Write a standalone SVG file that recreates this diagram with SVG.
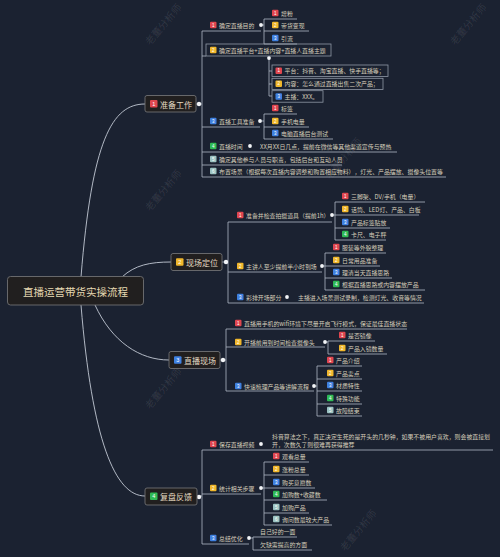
<svg xmlns="http://www.w3.org/2000/svg" width="500" height="557" viewBox="0 0 500 557">
<style>
.ln{stroke:#aeb7c5;stroke-width:0.8;fill:none}
.cl{stroke:#c3cad5;stroke-width:0.9;fill:none}
.t{font-family:"Noto Sans CJK SC","Noto Sans",sans-serif;font-size:5.9px;fill:#d6cebb;dominant-baseline:central}
.nt{font-family:"Noto Sans CJK SC","Noto Sans",sans-serif;font-size:8px;fill:#e4dac2;dominant-baseline:central}
.rt{font-family:"Noto Sans CJK SC","Noto Sans",sans-serif;font-size:10.5px;fill:#e6d9b2;dominant-baseline:central;text-anchor:middle}
.bn{font-family:"Liberation Sans",sans-serif;font-size:4.5px;fill:#fff;text-anchor:middle;dominant-baseline:central}
.nbn{font-family:"Liberation Sans",sans-serif;font-size:5.5px;fill:#fff;text-anchor:middle;dominant-baseline:central}
.r{fill:#e0464f}.y{fill:#f0b72b}.b{fill:#3f80df}.g{fill:#2fba55}.c{fill:#9cc3c1}
.node{fill:#211f1f;stroke:#6f7073;stroke-width:0.9}
.box{fill:none;stroke:#8f98a6;stroke-width:0.8}
.dot{fill:#f2f4f7}
.wm{font-family:"Noto Sans CJK SC",sans-serif;font-size:10px;fill:#ffffff;fill-opacity:0.1}
</style>
<rect width="500" height="557" fill="#1b2231"/>
<g id="watermarks">
<text class="wm" transform="translate(150,46) rotate(-50)">老董分析师</text>
<text class="wm" transform="translate(455,46) rotate(-50)">老董分析师</text>
<text class="wm" transform="translate(150,212) rotate(-50)">老董分析师</text>
<text class="wm" transform="translate(150,410) rotate(-50)">老董分析师</text>
<text class="wm" transform="translate(330,180) rotate(-50)">老董分析师</text>
<text class="wm" transform="translate(345,552) rotate(-50)">老董分析师</text>
</g>
<g id="connectors">
<path class="cl" d="M81,277 C92,140 112,104 145,104"/>
<path class="cl" d="M122,277 C135,265 150,262 171,262"/>
<path class="cl" d="M95,305 C112,342 140,360 169,360"/>
<path class="cl" d="M81,305 C92,440 115,496 145,496"/>
<path class="ln" d="M196,104 H202 M202,31 V177"/>
<path class="ln" d="M202,31 H261 M261,25 H264 M264,19 V44 M264,19 H297 M264,31 H309 M264,44 H297"/>
<path class="ln" d="M202,56 H206 M269,58 V96 M269,71 H272 M269,84 H272 M269,96 H272"/>
<path class="ln" d="M202,127 H260 M260,121 H264 M264,114 V139 M264,114 H297 M264,127 H309 M264,139 H333"/>
<path class="ln" d="M202,152 H397 M202,165 H342 M202,177 H446"/>
<path class="ln" d="M222,262 H228 M228,222 V303"/>
<path class="ln" d="M228,222 H332 M332,215 H335 M335,202 V240 M335,202 H425 M335,215 H419 M335,228 H390 M335,240 H386"/>
<path class="ln" d="M228,272 H322 M322,266 H325 M325,253 V290 M325,253 H386 M325,266 H380 M325,278 H392 M325,290 H425"/>
<path class="ln" d="M228,303 H424"/>
<path class="ln" d="M220,360 H226 M226,329 V391"/>
<path class="ln" d="M226,329 H407"/>
<path class="ln" d="M226,347 H325 M325,342 H328 M328,341 V354 M328,341 H375 M328,354 H387"/>
<path class="ln" d="M226,391 H314 M314,386 H317 M317,366 V416 M317,366 H362 M317,379 H362 M317,391 H362 M317,404 H362 M317,416 H362"/>
<path class="ln" d="M197,496 H202 M202,450 V544"/>
<path class="ln" d="M202,450 H493"/>
<path class="ln" d="M202,494 H261 M261,488 H264 M264,462 V525 M264,462 H309 M264,475 H309 M264,488 H315 M264,500 H327 M264,513 H309 M264,525 H332"/>
<path class="ln" d="M202,544 H249 M249,538 H253 M253,537 V550 M253,537 H297 M253,550 H312"/>
<circle class="dot" cx="199" cy="104" r="2.2"/>
<circle class="dot" cx="226" cy="262" r="2.2"/>
<circle class="dot" cx="223" cy="360" r="2.2"/>
<circle class="dot" cx="199" cy="497" r="2.2"/>
<circle class="dot" cx="261" cy="25" r="1.9"/>
<circle class="dot" cx="269" cy="58" r="1.9"/>
<circle class="dot" cx="260" cy="121" r="1.9"/>
<circle class="dot" cx="250" cy="146" r="1.9"/>
<circle class="dot" cx="332" cy="215" r="1.9"/>
<circle class="dot" cx="322" cy="266" r="1.9"/>
<circle class="dot" cx="287" cy="297" r="1.9"/>
<circle class="dot" cx="325" cy="342" r="1.9"/>
<circle class="dot" cx="314" cy="386" r="1.9"/>
<circle class="dot" cx="261" cy="444" r="1.9"/>
<circle class="dot" cx="261" cy="488" r="1.9"/>
<circle class="dot" cx="249" cy="538" r="1.9"/>
</g>
<g id="root">
<rect class="node" x="7.5" y="276.5" width="136" height="28.5" rx="3"/>
<text class="rt" x="75.5" y="291">直播运营带货实操流程</text>
</g>
<g id="n1">
<rect class="node" x="145" y="95.5" width="51" height="16.5" rx="2"/>
<rect class="r" x="150" y="100" width="7.5" height="7.5" rx="1"/><text class="nbn" x="153.75" y="103.9">1</text>
<text class="nt" x="160" y="104">准备工作</text>
</g>
<g id="n2">
<rect class="node" x="171" y="253.5" width="51" height="17" rx="2"/>
<rect class="y" x="176" y="258.2" width="7.5" height="7.5" rx="1"/><text class="nbn" x="179.75" y="262.1">2</text>
<text class="nt" x="186" y="262">现场定位</text>
</g>
<g id="n3">
<rect class="node" x="169" y="351.5" width="51" height="17" rx="2"/>
<rect class="b" x="174" y="356.2" width="7.5" height="7.5" rx="1"/><text class="nbn" x="177.75" y="360.1">3</text>
<text class="nt" x="184" y="360">直播现场</text>
</g>
<g id="n4">
<rect class="node" x="145" y="488" width="52" height="17" rx="2"/>
<rect class="g" x="150" y="492.5" width="7.5" height="7.5" rx="1"/><text class="nbn" x="153.75" y="496.4">4</text>
<text class="nt" x="160" y="496.5">复盘反馈</text>
</g>
<g id="n1-1">
<rect class="r" x="210" y="21.8" width="6.5" height="6.5" rx="1"/><text class="bn" x="213.25" y="25.1">1</text>
<text class="t" x="219" y="25">确定直播目的</text>
</g>
<g id="n1-1-1"><rect class="r" x="272" y="9.8" width="6.5" height="6.5" rx="1"/><text class="bn" x="275.25" y="13.1">1</text><text class="t" x="281" y="13">增粉</text></g>
<g id="n1-1-2"><rect class="y" x="272" y="21.8" width="6.5" height="6.5" rx="1"/><text class="bn" x="275.25" y="25.1">2</text><text class="t" x="281" y="25">带货变现</text></g>
<g id="n1-1-3"><rect class="b" x="272" y="34.8" width="6.5" height="6.5" rx="1"/><text class="bn" x="275.25" y="38.1">3</text><text class="t" x="281" y="38">引流</text></g>
<g id="n1-2">
<rect class="box" x="206" y="44" width="125" height="12"/>
<rect class="y" x="210" y="46.8" width="6.5" height="6.5" rx="1"/><text class="bn" x="213.25" y="50.1">2</text>
<text class="t" x="219" y="50">确定直播平台+直播内容+直播人直播主题</text>
</g>
<g id="n1-2-1"><rect class="box" x="272" y="65" width="116" height="11.5"/><rect class="r" x="275.5" y="67.5" width="6.5" height="6.5" rx="1"/><text class="bn" x="278.75" y="70.8">1</text><text class="t" x="284.5" y="70.8">平台：抖音、淘宝直播、快手直播等；</text></g>
<g id="n1-2-2"><rect class="box" x="272" y="78.3" width="111" height="11.2"/><rect class="y" x="275.5" y="80.6" width="6.5" height="6.5" rx="1"/><text class="bn" x="278.75" y="83.9">2</text><text class="t" x="284.5" y="83.9">内容：怎么通过直播出售二次产品；</text></g>
<g id="n1-2-3"><rect class="box" x="272" y="90.7" width="51" height="11.5"/><rect class="b" x="275.5" y="93.2" width="6.5" height="6.5" rx="1"/><text class="bn" x="278.75" y="96.5">3</text><text class="t" x="284.5" y="96.5">主播：XXX。</text></g>
<g id="n1-3">
<rect class="b" x="210" y="117.8" width="6.5" height="6.5" rx="1"/><text class="bn" x="213.25" y="121.1">3</text>
<text class="t" x="219" y="121">直播工具准备</text>
</g>
<g id="n1-3-1"><rect class="r" x="272" y="104.8" width="6.5" height="6.5" rx="1"/><text class="bn" x="275.25" y="108.1">1</text><text class="t" x="281" y="108">标签</text></g>
<g id="n1-3-2"><rect class="y" x="272" y="117.8" width="6.5" height="6.5" rx="1"/><text class="bn" x="275.25" y="121.1">2</text><text class="t" x="281" y="121">手机电量</text></g>
<g id="n1-3-3"><rect class="b" x="272" y="129.8" width="6.5" height="6.5" rx="1"/><text class="bn" x="275.25" y="133.1">3</text><text class="t" x="281" y="133">电脑直播后台测试</text></g>
<g id="n1-4">
<rect class="g" x="210" y="142.8" width="6.5" height="6.5" rx="1"/><text class="bn" x="213.25" y="146.1">4</text>
<text class="t" x="219" y="146">直播时间</text>
<text class="t" x="260" y="146">XX月XX日几点，提前在微信等其他渠道宣传与预热</text>
</g>
<g id="n1-5">
<rect class="c" x="210" y="155.8" width="6.5" height="6.5" rx="1"/><text class="bn" x="213.25" y="159.1">5</text>
<text class="t" x="219" y="159">确定其他参与人员与职责，包括后台和互动人员</text>
</g>
<g id="n1-6">
<rect class="c" x="210" y="167.8" width="6.5" height="6.5" rx="1"/><text class="bn" x="213.25" y="171.1">6</text>
<text class="t" x="219" y="171">布置场景（根据每次直播内容调整和购置相应物料），灯光、产品摆放、摄像头位置等</text>
</g>
<g id="n2-1">
<rect class="r" x="237" y="211.8" width="6.5" height="6.5" rx="1"/><text class="bn" x="240.25" y="215.1">1</text>
<text class="t" x="246" y="215">准备并检查拍摄道具（提前1h）</text>
</g>
<g id="n2-1-1"><rect class="r" x="342" y="192.8" width="6.5" height="6.5" rx="1"/><text class="bn" x="345.25" y="196.1">1</text><text class="t" x="351" y="196">三脚架、DV/手机（电量）</text></g>
<g id="n2-1-2"><rect class="y" x="342" y="205.8" width="6.5" height="6.5" rx="1"/><text class="bn" x="345.25" y="209.1">2</text><text class="t" x="351" y="209">话筒、LED灯、产品、白板</text></g>
<g id="n2-1-3"><rect class="b" x="342" y="218.8" width="6.5" height="6.5" rx="1"/><text class="bn" x="345.25" y="222.1">3</text><text class="t" x="351" y="222">产品标签贴放</text></g>
<g id="n2-1-4"><rect class="g" x="342" y="230.8" width="6.5" height="6.5" rx="1"/><text class="bn" x="345.25" y="234.1">4</text><text class="t" x="351" y="234">卡尺、电子秤</text></g>
<g id="n2-2">
<rect class="y" x="237" y="262.8" width="6.5" height="6.5" rx="1"/><text class="bn" x="240.25" y="266.1">2</text>
<text class="t" x="246" y="266">主讲人至少提前半小时到场</text>
</g>
<g id="n2-2-1"><rect class="r" x="333" y="243.8" width="6.5" height="6.5" rx="1"/><text class="bn" x="336.25" y="247.1">1</text><text class="t" x="342" y="247">服装等外貌整理</text></g>
<g id="n2-2-2"><rect class="y" x="333" y="256.8" width="6.5" height="6.5" rx="1"/><text class="bn" x="336.25" y="260.1">2</text><text class="t" x="342" y="260">日常用品准备</text></g>
<g id="n2-2-3"><rect class="b" x="333" y="268.8" width="6.5" height="6.5" rx="1"/><text class="bn" x="336.25" y="272.1">3</text><text class="t" x="342" y="272">理清当天直播思路</text></g>
<g id="n2-2-4"><rect class="g" x="333" y="280.8" width="6.5" height="6.5" rx="1"/><text class="bn" x="336.25" y="284.1">4</text><text class="t" x="342" y="284">根据直播思路或内容摆放产品</text></g>
<g id="n2-3">
<rect class="b" x="237" y="293.8" width="6.5" height="6.5" rx="1"/><text class="bn" x="240.25" y="297.1">3</text>
<text class="t" x="246" y="297">彩排开场部分</text>
<text class="t" x="298" y="297">主播进入场景测试录制，检测灯光、收音等情况</text>
</g>
<g id="n3-1">
<rect class="r" x="235" y="319.8" width="6.5" height="6.5" rx="1"/><text class="bn" x="238.25" y="323.1">1</text>
<text class="t" x="244" y="323">直播用手机的wifi环境下尽量开启飞行模式，保证最佳直播状态</text>
</g>
<g id="n3-2">
<rect class="y" x="235" y="338.8" width="6.5" height="6.5" rx="1"/><text class="bn" x="238.25" y="342.1">2</text>
<text class="t" x="244" y="342">开播前用到时间检查摄像头</text>
</g>
<g id="n3-2-1"><rect class="r" x="339" y="331.8" width="6.5" height="6.5" rx="1"/><text class="bn" x="342.25" y="335.1">1</text><text class="t" x="348" y="335">是否镜像</text></g>
<g id="n3-2-2"><rect class="y" x="339" y="344.8" width="6.5" height="6.5" rx="1"/><text class="bn" x="342.25" y="348.1">2</text><text class="t" x="348" y="348">产品入镜数量</text></g>
<g id="n3-3">
<rect class="b" x="235" y="382.8" width="6.5" height="6.5" rx="1"/><text class="bn" x="238.25" y="386.1">3</text>
<text class="t" x="244" y="386">快速梳理产品等讲解流程</text>
</g>
<g id="n3-3-1"><rect class="r" x="327" y="356.8" width="6.5" height="6.5" rx="1"/><text class="bn" x="330.25" y="360.1">1</text><text class="t" x="336" y="360">产品介绍</text></g>
<g id="n3-3-2"><rect class="y" x="327" y="369.8" width="6.5" height="6.5" rx="1"/><text class="bn" x="330.25" y="373.1">2</text><text class="t" x="336" y="373">产品卖点</text></g>
<g id="n3-3-3"><rect class="b" x="327" y="381.8" width="6.5" height="6.5" rx="1"/><text class="bn" x="330.25" y="385.1">3</text><text class="t" x="336" y="385">材质特性</text></g>
<g id="n3-3-4"><rect class="g" x="327" y="394.8" width="6.5" height="6.5" rx="1"/><text class="bn" x="330.25" y="398.1">4</text><text class="t" x="336" y="398">特殊功能</text></g>
<g id="n3-3-5"><rect class="c" x="327" y="406.8" width="6.5" height="6.5" rx="1"/><text class="bn" x="330.25" y="410.1">5</text><text class="t" x="336" y="410">故障结束</text></g>
<g id="n4-1">
<rect class="r" x="210" y="440.8" width="6.5" height="6.5" rx="1"/><text class="bn" x="213.25" y="444.1">1</text>
<text class="t" x="219" y="444">保存直播视频</text>
<text class="t" x="272" y="436">抖音算法之下，真正决定生死的是开头的几秒钟，如果不被用户喜欢，则会被直接划</text>
<text class="t" x="272" y="444">开，次数久了则很难再获得推荐</text>
</g>
<g id="n4-2">
<rect class="y" x="210" y="484.8" width="6.5" height="6.5" rx="1"/><text class="bn" x="213.25" y="488.1">2</text>
<text class="t" x="219" y="488">统计相关步骤</text>
</g>
<g id="n4-2-1"><rect class="r" x="273" y="452.8" width="6.5" height="6.5" rx="1"/><text class="bn" x="276.25" y="456.1">1</text><text class="t" x="282" y="456">观看总量</text></g>
<g id="n4-2-2"><rect class="y" x="273" y="465.8" width="6.5" height="6.5" rx="1"/><text class="bn" x="276.25" y="469.1">2</text><text class="t" x="282" y="469">涨粉总量</text></g>
<g id="n4-2-3"><rect class="b" x="273" y="478.8" width="6.5" height="6.5" rx="1"/><text class="bn" x="276.25" y="482.1">3</text><text class="t" x="282" y="482">购买意愿数</text></g>
<g id="n4-2-4"><rect class="g" x="273" y="490.8" width="6.5" height="6.5" rx="1"/><text class="bn" x="276.25" y="494.1">4</text><text class="t" x="282" y="494">加购数+收藏数</text></g>
<g id="n4-2-5"><rect class="c" x="273" y="503.8" width="6.5" height="6.5" rx="1"/><text class="bn" x="276.25" y="507.1">5</text><text class="t" x="282" y="507">加购产品</text></g>
<g id="n4-2-6"><rect class="c" x="273" y="515.8" width="6.5" height="6.5" rx="1"/><text class="bn" x="276.25" y="519.1">6</text><text class="t" x="282" y="519">询问数最较大产品</text></g>
<g id="n4-3">
<rect class="b" x="210" y="534.8" width="6.5" height="6.5" rx="1"/><text class="bn" x="213.25" y="538.1">3</text>
<text class="t" x="219" y="538">总结优化</text>
</g>
<g id="n4-3-1"><text class="t" x="260" y="531">自己好的一面</text></g>
<g id="n4-3-2"><text class="t" x="260" y="544">欠缺需提高的方面</text></g>
</svg>
